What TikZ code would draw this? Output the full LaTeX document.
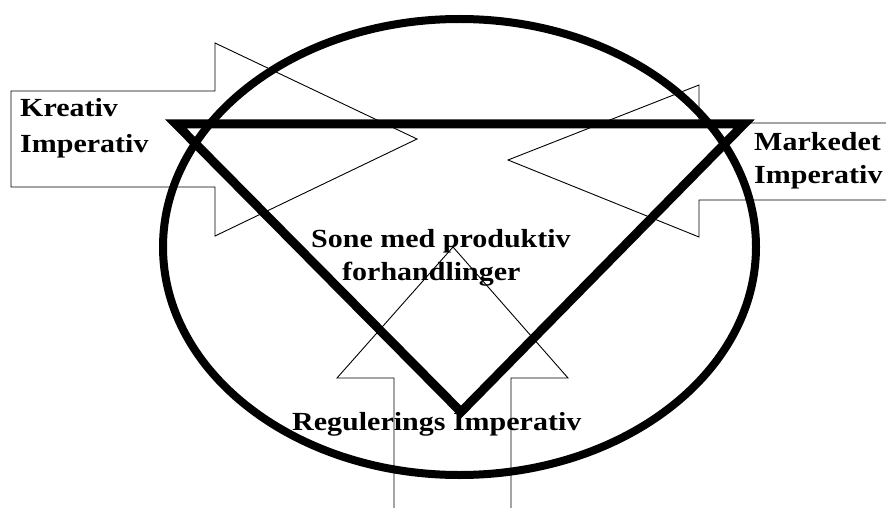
\documentclass[tikz,border=0pt]{standalone}
\usepackage{fontspec}
\setmainfont{Liberation Serif}
\begin{document}
\begin{tikzpicture}[x=1pt,y=-1pt,
  lbl/.style={anchor=base west,inner sep=0pt,font=\fontsize{30}{30}\selectfont\bfseries},
  thinarrow/.style={draw=black,line width=0.9pt,line join=miter},
  thick/.style={draw=black,line width=9pt,line join=miter}]
\clip (0,0) rectangle (886,508);
\fill[white] (0,0) rectangle (886,508);
% labels
\node[lbl] (k1) at (20,117) {\scalebox{1}[0.87]{Kreativ}};
\node[lbl] (k2) at (20,153) {\scalebox{1}[0.87]{Imperativ}};
\node[lbl] (m1) at (754,150) {\scalebox{1}[0.87]{Markedet}};
\node[lbl] (m2) at (754,183) {\scalebox{1}[0.87]{Imperativ}};
\node[lbl] (s1) at (311,247) {\scalebox{1}[0.87]{Sone med produktiv}};
\node[lbl] (s2) at (342,280) {\scalebox{1}[0.87]{forhandlinger}};
\node[lbl] (r1) at (292,430) {\scalebox{1}[0.87]{Regulerings Imperativ}};
% block arrows
\draw[thinarrow] (11,91) -- (215,91) -- (215,43) -- (417,139) -- (215,236) -- (215,187) -- (11,187) -- cycle;
\draw[thinarrow] (900,123) -- (699,123) -- (699,85) -- (508,160) -- (699,237) -- (699,200) -- (900,200);
\draw[thinarrow] (394,520) -- (394,378) -- (337,378) -- (453,247) -- (568,378) -- (511,378) -- (511,520);
% ellipse and triangle
\draw[draw=black,line width=8pt] (459.5,247) ellipse [x radius=296.5, y radius=228];
\draw[thick] (176,124) -- (744,124) -- (461,412) -- cycle;
\end{tikzpicture}
\end{document}
